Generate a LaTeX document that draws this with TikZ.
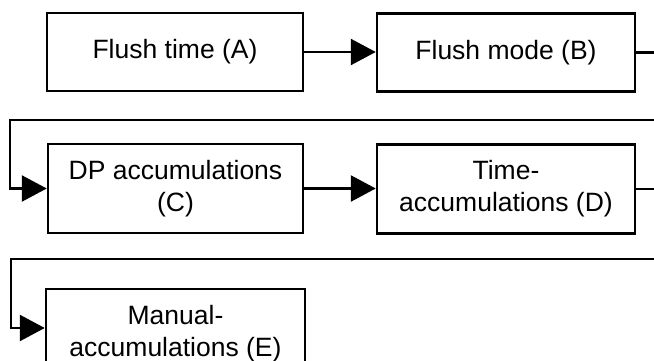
\documentclass[tikz,border=0pt]{standalone}
\usepackage{fontspec}
\setmainfont{Liberation Sans}
\usetikzlibrary{arrows.meta,calc}
\begin{document}
\begin{tikzpicture}[x=1pt,y=-1pt,
  box/.style={draw=black,line width=2.5pt,fill=white,align=center,inner sep=0pt,
    font=\fontsize{26.5}{32}\selectfont},
  conn/.style={draw=black,line width=2.5pt,-{Triangle[length=25pt,width=26pt]}}]
\useasboundingbox (0,0) rectangle (654,361);
\clip (0,0) rectangle (654,361);
\node[box,minimum width=256pt,minimum height=78pt] (A) at (175,52) {Flush time (A)};
\node[box,minimum width=258pt,minimum height=78pt] (B) at (506,52.5) {Flush mode (B)};
\node[box,minimum width=255pt,minimum height=89pt] (C) at (175.5,188.5) {DP accumulations\\(C)};
\node[box,minimum width=258pt,minimum height=89pt] (D) at (506,189) {Time-\\accumulations (D)};
\node[box,minimum width=259pt,minimum height=89pt] (E) at (175.5,333.5) {Manual-\\accumulations (E)};
\coordinate (Ein) at ($(E.west)+(0,-5.5)$);
\draw[conn] (A.east) -- (B.west |- A.east);
\draw[conn] (B.east) -- ++(30,0) |- (10,120) |- (C.west);
\draw[conn] (C.east) -- (D.west |- C.east);
\draw[conn] (D.east) -- ++(30,0) |- (11,259) |- (Ein);
\end{tikzpicture}
\end{document}
